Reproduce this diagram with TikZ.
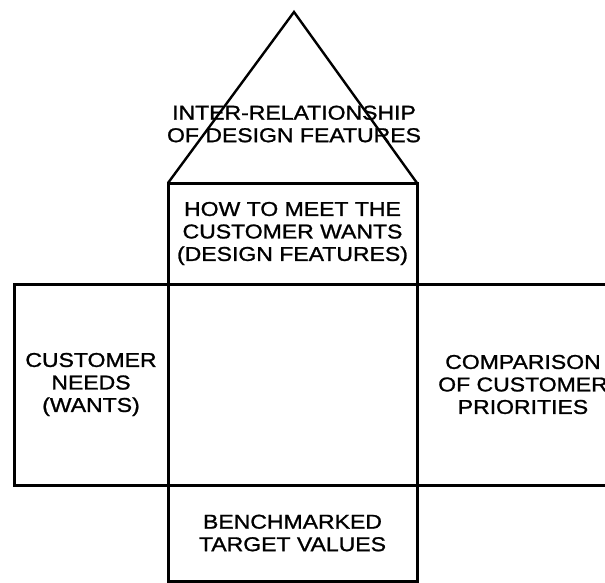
\documentclass[tikz,border=0pt]{standalone}
\usepackage{fontspec}
\setmainfont[FakeStretch=1.15, FakeBold=1.2]{Liberation Sans}
\usetikzlibrary{positioning}

\begin{document}
\begin{tikzpicture}[x=1pt, y=-1pt]
  \tikzstyle{cell}=[rectangle, draw, line width=3pt, inner sep=0pt, outer sep=0pt,
                    align=center, font=\fontsize{20}{22.5}\selectfont]
  \tikzstyle{roof}=[line width=2.4pt, line join=miter]
  \tikzstyle{label}=[align=center, font=\fontsize{20}{22.5}\selectfont]

  \useasboundingbox (0,0) rectangle (605,583);
  \clip (0,0) rectangle (605,583);

  % Matriz de relacoes
  \node[cell, minimum width=249pt, minimum height=201pt] (rel) at (292.5,384.5) {};

  % Casas em volta
  \node[cell, minimum width=249pt, minimum height=101pt, above=0pt of rel] (hows)
    {HOW TO MEET THE\\CUSTOMER WANTS\\(DESIGN FEATURES)};
  \node[cell, minimum width=154pt, minimum height=201pt, left=0pt of rel] (whats)
    {CUSTOMER\\NEEDS\\(WANTS)};
  \node[cell, minimum width=212pt, minimum height=201pt, right=0pt of rel] (prio)
    {COMPARISON\\OF CUSTOMER\\PRIORITIES};
  \node[cell, minimum width=249pt, minimum height=96pt, below=0pt of rel] (bench)
    {BENCHMARKED\\TARGET VALUES};

  % Telhado
  \coordinate (apex) at (294,12);
  \draw[roof] (hows.north west) -- (apex) -- (hows.north east);
  \node[label] (roof) at (294,124) {INTER-RELATIONSHIP\\OF DESIGN FEATURES};
\end{tikzpicture}
\end{document}
